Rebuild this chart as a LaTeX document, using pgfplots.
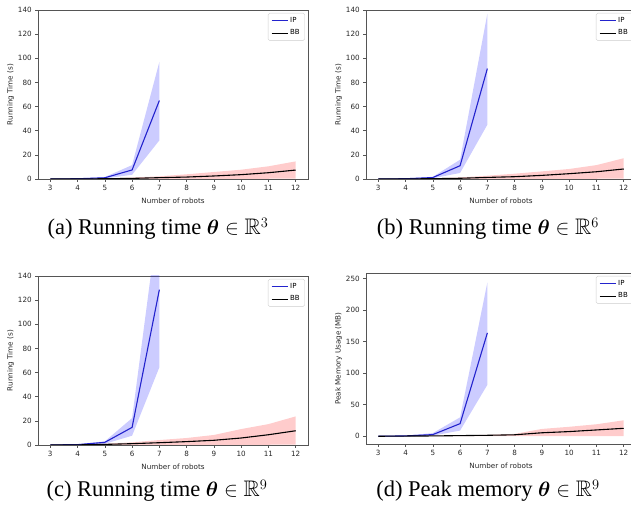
\documentclass[border=0pt]{standalone}
\usepackage{amsmath}
\usepackage{amssymb}
\usepackage{fontspec}
\setmainfont{Liberation Serif}
\newfontfamily\plotfont{DejaVu Sans}
\usepackage{pgfplots}
\pgfplotsset{compat=1.18}
\usepgfplotslibrary{fillbetween}

\definecolor{ipline}{RGB}{35,35,205}
\definecolor{frame}{RGB}{85,85,85}

\pgfplotsset{
  robots/.style={
    scale only axis, width=270pt, height=169pt,
    xmin=2.55, xmax=12.45, xtick={3,...,12},
    axis line style={frame, line width=0.7pt},
    tick style={frame, line width=0.6pt},
    tick align=outside, major tick length=2.8pt,
    xtick pos=lower, ytick pos=left,
    ticklabel style={font=\plotfont\fontsize{7.2}{8}\selectfont, text=black!85},
    label style={font=\plotfont\fontsize{7.2}{8}\selectfont, text=black!85},
    ylabel style={yshift=-3pt},
    /pgf/number format/assume math mode=true,
    xlabel={Number of robots},
    legend style={at={(1,1)}, anchor=north east, xshift=-3pt, yshift=-3pt,
      font=\plotfont\fontsize{7}{8}\selectfont, draw=gray!40, rounded corners=1.5pt,
      row sep=2pt, inner xsep=3pt, inner ysep=2pt},
    legend cell align=left,
    legend image code/.code={\draw[#1] (0pt,0pt) -- (16pt,0pt);},
  },
  band/.style={draw=none, forget plot},
}

\newcommand{\capfont}{\fontsize{22.5}{26}\selectfont}

\begin{document}
\begin{tikzpicture}

% (a)
\begin{axis}[robots, at={(38pt,329pt)}, anchor=south west,
  ymin=0, ymax=140, ytick={0,20,...,140}, ylabel={Running Time (s)}]
\addplot[band, name path=ipu] coordinates {(3,0.1) (4,0.4) (5,1.6) (6,11.5) (7,97)};
\addplot[band, name path=ipl] coordinates {(3,0) (4,0.05) (5,0.5) (6,3.5) (7,32)};
\addplot[fill=blue, fill opacity=0.2, forget plot] fill between[of=ipu and ipl];
\addplot[band, name path=bbu] coordinates {(3,0.05) (4,0.15) (5,0.5) (6,1.2) (7,2.2) (8,3.9) (9,5.8) (10,7.7) (11,10.5) (12,14.6)};
\addplot[band, name path=bbl] coordinates {(3,0) (4,0) (5,0) (6,0) (7,0.1) (8,0.1) (9,0.1) (10,0.1) (11,0.2) (12,0.3)};
\addplot[fill=red, fill opacity=0.2, forget plot] fill between[of=bbu and bbl];
\addplot[ipline, line width=1.1pt] coordinates {(3,0.05) (4,0.2) (5,1) (6,7.5) (7,65)};
\addplot[black, line width=1.1pt] coordinates {(3,0) (4,0.05) (5,0.2) (6,0.5) (7,1.1) (8,1.6) (9,2.5) (10,3.6) (11,5.2) (12,7.4)};
\legend{IP, BB}
\end{axis}

% (b)
\begin{axis}[robots, at={(366pt,329pt)}, anchor=south west,
  ymin=0, ymax=140, ytick={0,20,...,140}, ylabel={Running Time (s)}]
\addplot[band, name path=ipu] coordinates {(3,0.1) (4,0.4) (5,1.8) (6,16) (7,137)};
\addplot[band, name path=ipl] coordinates {(3,0) (4,0.05) (5,0.6) (6,5) (7,45)};
\addplot[fill=blue, fill opacity=0.2, forget plot] fill between[of=ipu and ipl];
\addplot[band, name path=bbu] coordinates {(3,0.05) (4,0.2) (5,0.6) (6,1.3) (7,2.7) (8,4.4) (9,6.3) (10,8.3) (11,11.5) (12,17.2)};
\addplot[band, name path=bbl] coordinates {(3,0) (4,0) (5,0) (6,0) (7,0.1) (8,0.1) (9,0.1) (10,0.1) (11,0.2) (12,0.3)};
\addplot[fill=red, fill opacity=0.2, forget plot] fill between[of=bbu and bbl];
\addplot[ipline, line width=1.1pt] coordinates {(3,0.05) (4,0.2) (5,1.2) (6,11) (7,91.5)};
\addplot[black, line width=1.1pt] coordinates {(3,0) (4,0.05) (5,0.25) (6,0.6) (7,1.3) (8,1.9) (9,3) (10,4.4) (11,6) (12,8.3)};
\legend{IP, BB}
\end{axis}

% (c)
\begin{axis}[robots, at={(38pt,63pt)}, anchor=south west,
  ymin=0, ymax=140, ytick={0,20,...,140}, ylabel={Running Time (s)}]
\addplot[band, name path=ipu] coordinates {(3,0.1) (4,0.5) (5,3) (6,22.3) (7,195)};
\addplot[band, name path=ipl] coordinates {(3,0) (4,0.1) (5,1) (6,7.7) (7,64.4)};
\addplot[fill=blue, fill opacity=0.2, forget plot] fill between[of=ipu and ipl];
\addplot[band, name path=bbu] coordinates {(3,0.05) (4,0.2) (5,1) (6,2.2) (7,4.1) (8,5.8) (9,8.3) (10,13.2) (11,17.3) (12,23.7)};
\addplot[band, name path=bbl] coordinates {(3,0) (4,0) (5,0) (6,0) (7,0.1) (8,0.1) (9,0.1) (10,0.1) (11,0.2) (12,0.3)};
\addplot[fill=red, fill opacity=0.2, forget plot] fill between[of=bbu and bbl];
\addplot[ipline, line width=1.1pt] coordinates {(3,0.05) (4,0.3) (5,2.2) (6,14.6) (7,128.7)};
\addplot[black, line width=1.1pt] coordinates {(3,0) (4,0.1) (5,0.5) (6,1.1) (7,1.9) (8,2.8) (9,3.9) (10,5.8) (11,8.5) (12,11.8)};
\legend{IP, BB}
\end{axis}

% (d)
\begin{axis}[robots, at={(366pt,64pt)}, anchor=south west, height=171pt,
  ymin=-12.3, ymax=259, ytick={0,50,...,250}, ylabel={Peak Memory Usage (MB)}]
\addplot[band, name path=ipu] coordinates {(3,0.2) (4,1) (5,5) (6,30) (7,244)};
\addplot[band, name path=ipl] coordinates {(3,0) (4,0.2) (5,1) (6,9) (7,81.6)};
\addplot[fill=blue, fill opacity=0.2, forget plot] fill between[of=ipu and ipl];
\addplot[band, name path=bbu] coordinates {(3,0.1) (4,0.4) (5,0.8) (6,1.5) (7,2.2) (8,3.7) (9,11.6) (10,15) (11,19) (12,25.3)};
\addplot[band, name path=bbl] coordinates {(3,0) (4,0) (5,0) (6,0) (7,0.1) (8,0.2) (9,0.3) (10,0.3) (11,0.3) (12,0.3)};
\addplot[fill=red, fill opacity=0.2, forget plot] fill between[of=bbu and bbl];
\addplot[ipline, line width=1.1pt] coordinates {(3,0) (4,0.5) (5,2.6) (6,20) (7,164)};
\addplot[black, line width=1.1pt] coordinates {(3,0) (4,0.3) (5,0.5) (6,1) (7,1.5) (8,2.3) (9,5.5) (10,7.4) (11,10) (12,12.6)};
\legend{IP, BB}
\end{axis}

\node[font=\capfont] at (158pt,279pt) {(a) Running time $\boldsymbol{\theta}\in\mathbb{R}^3$};
\node[font=\capfont] at (488pt,279pt) {(b) Running time $\boldsymbol{\theta}\in\mathbb{R}^6$};
\node[font=\capfont] at (157pt,17pt) {(c) Running time $\boldsymbol{\theta}\in\mathbb{R}^9$};
\node[font=\capfont] at (488pt,17pt) {(d) Peak memory $\boldsymbol{\theta}\in\mathbb{R}^9$};

\pgfresetboundingbox
\path[use as bounding box] (0,0) rectangle (631pt,508pt);
\end{tikzpicture}
\end{document}
